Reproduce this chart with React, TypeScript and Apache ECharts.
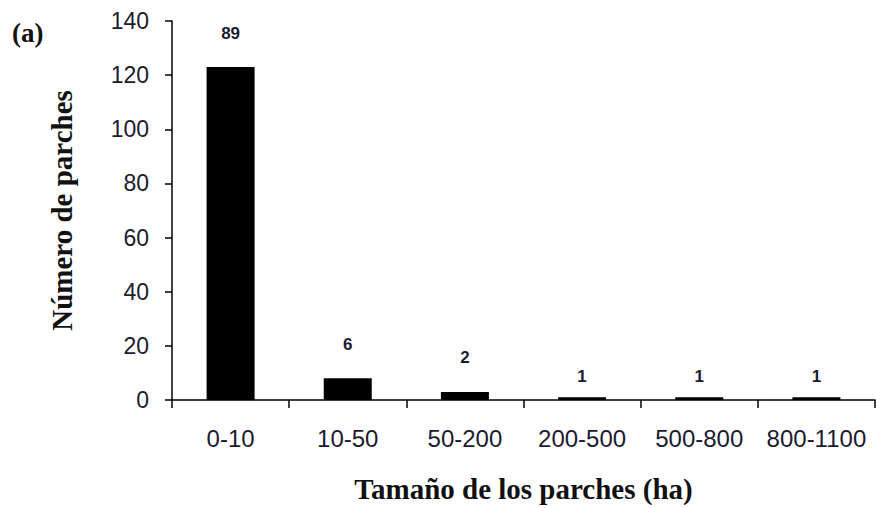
import React, { useEffect, useRef } from "react";
import * as echarts from "echarts";

const categories = ["0-10", "10-50", "50-200", "200-500", "500-800", "800-1100"];
const barValues = [123, 8, 3, 1, 1, 1];
const barLabels = ["89", "6", "2", "1", "1", "1"];
const labelDistances = [25, 25, 26, 12, 12, 12];
const yTicks = { min: 0, max: 140, interval: 20 };

export default function App() {
  const ref = useRef<HTMLDivElement>(null);
  useEffect(() => {
    if (!ref.current) return;
    const chart = echarts.init(ref.current, undefined, { renderer: "svg" });
    chart.setOption({
      animation: false,
      backgroundColor: "#ffffff",
      grid: { left: 172, right: 1, top: 21, bottom: 103, containLabel: false },
      graphic: [
        {
          type: "text",
          left: 12,
          top: 19,
          style: {
            text: "(a)",
            font: "bold 27px 'Liberation Serif', 'Times New Roman', serif",
            fill: "#111",
          },
        },
      ],
      xAxis: {
        type: "category",
        data: categories,
        name: "Tamaño de los parches (ha)",
        nameLocation: "middle",
        nameGap: 74,
        nameTextStyle: {
          fontFamily: "'Liberation Serif', 'Times New Roman', serif",
          fontWeight: "bold",
          fontSize: 29,
          color: "#111",
        },
        axisLine: { lineStyle: { color: "#000", width: 1.5 } },
        axisTick: { show: true, length: 8, inside: false, alignWithLabel: false, lineStyle: { color: "#000", width: 1.5 } },
        axisLabel: {
          fontFamily: "'Liberation Sans', Arial, sans-serif",
          fontSize: 24,
          color: "#1c1a30",
          margin: 26,
          interval: 0,
        },
      },
      yAxis: {
        type: "value",
        min: yTicks.min,
        max: yTicks.max,
        interval: yTicks.interval,
        name: "Número de parches",
        nameLocation: "middle",
        nameGap: 96,
        nameRotate: 90,
        nameTextStyle: {
          fontFamily: "'Liberation Serif', 'Times New Roman', serif",
          fontWeight: "bold",
          fontSize: 29,
          color: "#111",
        },
        splitLine: { show: false },
        axisLine: { show: true, lineStyle: { color: "#000", width: 1.5 } },
        axisTick: { show: true, length: 7, inside: false, lineStyle: { color: "#000", width: 1.5 } },
        axisLabel: {
          fontFamily: "'Liberation Sans', Arial, sans-serif",
          fontSize: 23,
          color: "#1c1a30",
          margin: 23,
        },
      },
      series: [
        {
          type: "bar",
          barWidth: 48,
          itemStyle: { color: "#000" },
          data: barValues.map((v, i) => ({
            value: v,
            label: {
              show: true,
              position: "top",
              distance: labelDistances[i],
              formatter: barLabels[i],
              fontFamily: "'Liberation Sans Narrow', 'Liberation Sans', Arial, sans-serif",
              fontWeight: "bold",
              fontSize: 17,
              color: "#1c1a30",
            },
          })),
        },
      ],
    });
    return () => chart.dispose();
  }, []);
  return <div ref={ref} style={{ width: 876, height: 508, position: "absolute", left: 0, top: 0 }} />;
}
